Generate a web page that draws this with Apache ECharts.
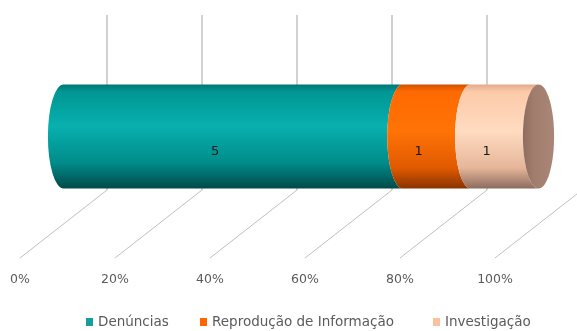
<!DOCTYPE html>
<html>
<head>
<meta charset="utf-8">
<script src="https://cdn.jsdelivr.net/npm/echarts@6/dist/echarts.min.js"></script>
<style>
  html, body { margin: 0; padding: 0; background: #ffffff; }
  #chart { width: 577px; height: 331px; }
</style>
</head>
<body>
<div id="chart"></div>
<script>
// Stacked 100% cylinder bar: number of items per type
const seriesNames = ['Denúncias', 'Reprodução de Informação', 'Investigação'];
const seriesValues = [5, 1, 1];
const axisTicks = [0, 20, 40, 60, 80, 100];
const categoryNames = ['Total'];

// Face gradients for each cylinder segment (top -> bottom)
const faceStops = [
  [[0, '#007673'], [0.07, '#009693'], [0.4, '#08b0ae'], [0.75, '#008c8a'], [1, '#004a49']],
  [[0, '#d05200'], [0.07, '#ff6a00'], [0.45, '#ff7306'], [0.8, '#e05a00'], [1, '#8a3300']],
  [[0, '#e3aa8c'], [0.07, '#fccaa9'], [0.45, '#ffdbc0'], [0.8, '#e6b699'], [1, '#8c6c5f']]
];
const legendColors = ['#159e9c', '#ff6600', '#fcc0a0'];
const legendLefts = [86, 200, 433];
const capColor = '#a07d6d';

const total = seriesValues.reduce((a, b) => a + b, 0);
let acc = 0;
const segments = seriesValues.map((v) => {
  const s = acc / total * 100;
  acc += v;
  return [s, acc / total * 100, 0, v];
});

const DEPTH_X = 87;   // horizontal shift from front edge to back wall
const DEPTH_Y = 68;   // vertical shift from front edge to back wall

const chart = echarts.init(document.getElementById('chart'), null, { renderer: 'canvas' });

function gridRender(params, api) {
  const cs = params.coordSys;
  const xf = api.coord([api.value(0), 0])[0];
  const front = cs.y + cs.height;
  const back = front - DEPTH_Y;
  const xb = xf + DEPTH_X;
  return {
    type: 'group',
    children: [
      { type: 'line', shape: { x1: xb, y1: cs.y, x2: xb, y2: back },
        style: { stroke: '#d2d2d2', lineWidth: 2 } },
      { type: 'line', shape: { x1: xb, y1: back, x2: xf, y2: front },
        style: { stroke: '#c0c0c0', lineWidth: 1 } }
    ]
  };
}

function makeCylinderRender(idx, isLast) {
  return function (params, api) {
    const p0 = api.coord([api.value(0), api.value(2)]);
    const p1 = api.coord([api.value(1), api.value(2)]);
    const band = api.size([0, 1])[1];
    const ry = band * 0.214;
    const rx = ry * 0.3;
    const dx = DEPTH_X / 2;
    const xs = p0[0] + dx, xe = p1[0] + dx;
    const cy = p0[1];
    const top = cy - ry, bot = cy + ry;
    const path = 'M' + xs + ',' + top + ' L' + xe + ',' + top +
      ' A' + rx + ',' + ry + ' 0 0 0 ' + xe + ',' + bot +
      ' L' + xs + ',' + bot +
      ' A' + rx + ',' + ry + ' 0 0 1 ' + xs + ',' + top + ' Z';
    const children = [{
      type: 'path',
      shape: { pathData: path },
      style: {
        fill: new echarts.graphic.LinearGradient(0, 0, 0, 1,
          faceStops[idx].map(s => ({ offset: s[0], color: s[1] })))
      }
    }];
    if (isLast) {
      children.push({
        type: 'ellipse',
        shape: { cx: xe, cy: cy, rx: rx, ry: ry },
        style: {
          fill: new echarts.graphic.LinearGradient(0, 0, 1, 0, [
            { offset: 0, color: '#8f6c5e' }, { offset: 0.35, color: capColor },
            { offset: 1, color: '#a98676' }
          ])
        }
      });
    }
    children.push({
      type: 'text',
      x: (xs + xe) / 2 - 18,
      y: cy + 15,
      style: {
        text: String(api.value(3)),
        fill: '#1a1a1a',
        font: '13px "DejaVu Sans"',
        align: 'center',
        verticalAlign: 'middle'
      }
    });
    return { type: 'group', children: children };
  };
}

const series = [{
  type: 'custom',
  name: 'grid',
  renderItem: gridRender,
  data: axisTicks.map(t => [t]),
  encode: { x: 0 },
  clip: false,
  silent: true,
  z: 1
}];
segments.forEach((seg, i) => {
  series.push({
    type: 'custom',
    name: seriesNames[i],
    renderItem: makeCylinderRender(i, i === segments.length - 1),
    data: [seg],
    encode: { x: [0, 1], y: 2 },
    itemStyle: { color: legendColors[i] },
    clip: false,
    z: 2 + i
  });
});

// one legend block per series so each entry keeps its own place
const legends = seriesNames.map((name, i) => ({
  data: [name],
  left: legendLefts[i],
  bottom: 2,
  padding: 0,
  icon: 'rect',
  itemWidth: 7,
  itemHeight: 8,
  textStyle: { color: '#5a5a5a', fontFamily: 'DejaVu Sans', fontSize: 13.5, padding: [0, 0, 0, 0] }
}));

chart.setOption({
  animation: false,
  backgroundColor: '#ffffff',
  grid: { left: 20, right: 82, top: 15, bottom: 73 },
  xAxis: {
    type: 'value',
    min: 0, max: 100, interval: 20,
    axisLine: { show: false },
    axisTick: { show: false },
    splitLine: { show: false },
    axisLabel: {
      formatter: '{value}%',
      margin: 15,
      color: '#5a5a5a',
      fontFamily: 'DejaVu Sans',
      fontSize: 12.5
    }
  },
  yAxis: {
    type: 'category',
    data: categoryNames,
    show: false
  },
  legend: legends,
  series: series
});
</script>
</body>
</html>
